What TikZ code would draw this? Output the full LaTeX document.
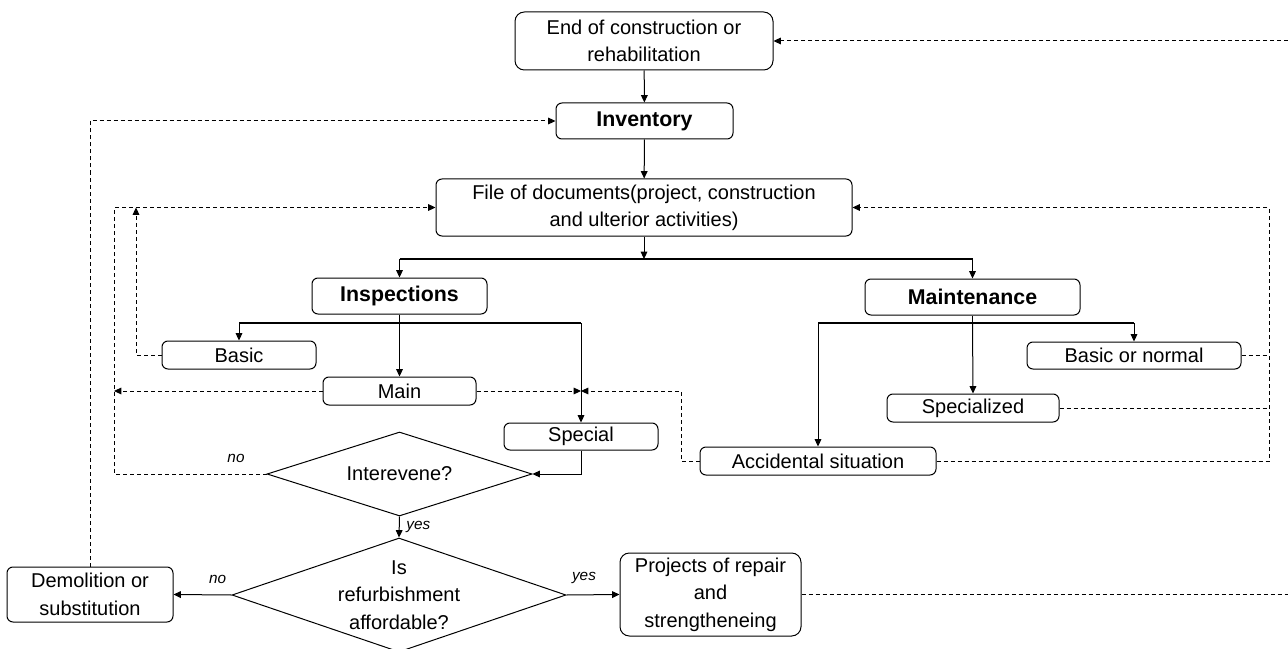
\documentclass[tikz,border=0pt]{standalone}
\usepackage{fontspec}
\setmainfont{Liberation Sans}
\usetikzlibrary{arrows.meta,shapes.geometric,calc}

\begin{document}
\begin{tikzpicture}[
  x=0.75pt, y=-0.75pt,
  font=\fontsize{15}{20.5}\selectfont,
  box/.style={draw, rounded corners=4.5pt, align=center, inner sep=0pt, line width=0.75pt},
  bbox/.style={box, font=\fontsize{16}{20}\selectfont\bfseries},
  dec/.style={draw, diamond, inner sep=0pt, line width=0.75pt},
  arr/.style={-{Triangle[length=5.5pt,width=5pt]}, line width=0.75pt},
  dsh/.style={dash pattern=on 3pt off 2.25pt, line width=0.75pt},
  darr/.style={dsh, -{Triangle[length=5.5pt,width=5pt]}},
  brn/.style={line width=1.5pt},
  lbl/.style={font=\fontsize{11.5}{13}\selectfont\itshape, inner sep=0pt},
]
\useasboundingbox (0,0) rectangle (1288,649);
% ---------- main chain ----------
\node[box, rounded corners=7pt, minimum width=193.5pt, minimum height=43.5pt] (endc) at (644,41) {End of construction or\\rehabilitation};
\node[bbox, minimum width=132.75pt, minimum height=27pt] (inv) at (644.5,121) {Inventory};
\node[box, minimum width=312pt, minimum height=42.75pt] (file) at (644,207.5) {File of documents(project, construction\\and ulterior activities)};
\node[bbox, minimum width=131.25pt, minimum height=27pt] (insp) at (399.5,296) {Inspections};
\node[bbox, minimum width=161.25pt, minimum height=27pt] (maint) at (972.5,297) {Maintenance};
% ---------- inspections ----------
\node[box, minimum width=115.5pt, minimum height=21pt] (basic) at (239,355) {Basic};
\node[box, minimum width=114.75pt, minimum height=21pt] (main) at (399.5,391) {Main};
\node[box, minimum width=115.5pt, minimum height=20.25pt] (special) at (581,436.5) {Special};
% ---------- maintenance ----------
\node[box, minimum width=160.5pt, minimum height=20.25pt] (bnorm) at (1134,355.5) {Basic or normal};
\node[box, minimum width=129pt, minimum height=21pt] (spec) at (973,408) {Specialized};
\node[box, minimum width=177pt, minimum height=21pt] (acc) at (818,461) {Accidental situation};
% ---------- decisions ----------
\node[dec, aspect=3.15, minimum width=198.75pt, minimum height=63pt] (int) at (399.5,474) {Interevene?};
\node[dec, aspect=2.93, minimum width=250.5pt, minimum height=85.5pt,
  label={[align=center]center:Is\\refurbishment\\affordable?}] (aff) at (399,595) {};
\node[box, minimum width=124.5pt, minimum height=41.25pt] (demol) at (90,594.5) {Demolition or\\substitution};
\node[box, rounded corners=7pt, minimum width=135.75pt, minimum height=62.25pt] (proj) at (710.5,594.5) {Projects of repair\\and\\strengtheneing};

% ---------- solid connectors ----------
\coordinate (fsplit) at (644,259);
\coordinate (isplit) at (399.5,323);
\coordinate (msplit) at (972.5,323);
\draw[arr] (endc) -- (inv);
\draw[arr] (inv) -- (file);
\draw[arr] (file.south) -- (fsplit);
\draw[brn] (insp.north |- fsplit) -- (maint.north |- fsplit);
\draw[arr] (insp.north |- fsplit) -- (insp.north);
\draw[arr] (maint.north |- fsplit) -- (maint.north);
\draw (insp.south) -- (isplit);
\draw[brn] (basic.north |- isplit) -- (special.north |- isplit);
\draw[arr] (basic.north |- isplit) -- (basic.north);
\draw[arr] (isplit) -- (main.north);
\draw[arr] (special.north |- isplit) -- (special.north);
\draw (maint.south) -- (msplit);
\draw[brn] (acc.north |- msplit) -- (bnorm.north |- msplit);
\draw[arr] (acc.north |- msplit) -- (acc.north);
\draw[arr] (msplit) -- (spec.north);
\draw[arr] (bnorm.north |- msplit) -- (bnorm.north);
\draw[arr] (special.south) -- (special.south |- int.east) -- (int.east);
\draw[arr] (int.south) -- node[lbl, right=5pt] {yes} (aff.north);
\draw[arr] (aff.west) -- node[lbl, pos=0.24, above=8pt] {no} (demol.east);
\draw[arr] (aff.east) -- node[lbl, pos=0.33, above=8pt] {yes} (proj.west);

% ---------- dashed feedback ----------
\coordinate (xout) at (114,0);
\coordinate (xin) at (136,0);
\coordinate (xacc) at (681,0);
\coordinate (xr) at (1269,0);
\coordinate (xedge) at (1288,0);
\coordinate (mj) at (special.north |- main.east);
\draw[darr] (int.west) -- node[lbl, pos=0.2, above=8pt] {no} (int.west -| xout) -- (file.west -| xout) -- (file.west);
\draw[darr] (main.west) -- (main.west -| xout);
\draw[darr] (basic.west) -- (basic.west -| xin) -- (file.west -| xin);
\draw[darr] (demol.north) -- (demol.north |- inv.west) -- (inv.west);
\draw[darr] (main.east) -- (mj);
\draw[darr] (acc.west) -- (acc.west -| xacc) -- (main.east -| xacc) -- (mj);
\draw[dsh] (bnorm.east) -- (bnorm.east -| xr);
\draw[dsh] (spec.east) -- (spec.east -| xr);
\draw[darr] (acc.east) -- (acc.east -| xr) -- (file.east -| xr) -- (file.east);
\draw[dsh] (proj.east) -- (proj.east -| xedge);
\draw[darr] (endc.east -| xedge) -- (endc.east);
\end{tikzpicture}
\end{document}
